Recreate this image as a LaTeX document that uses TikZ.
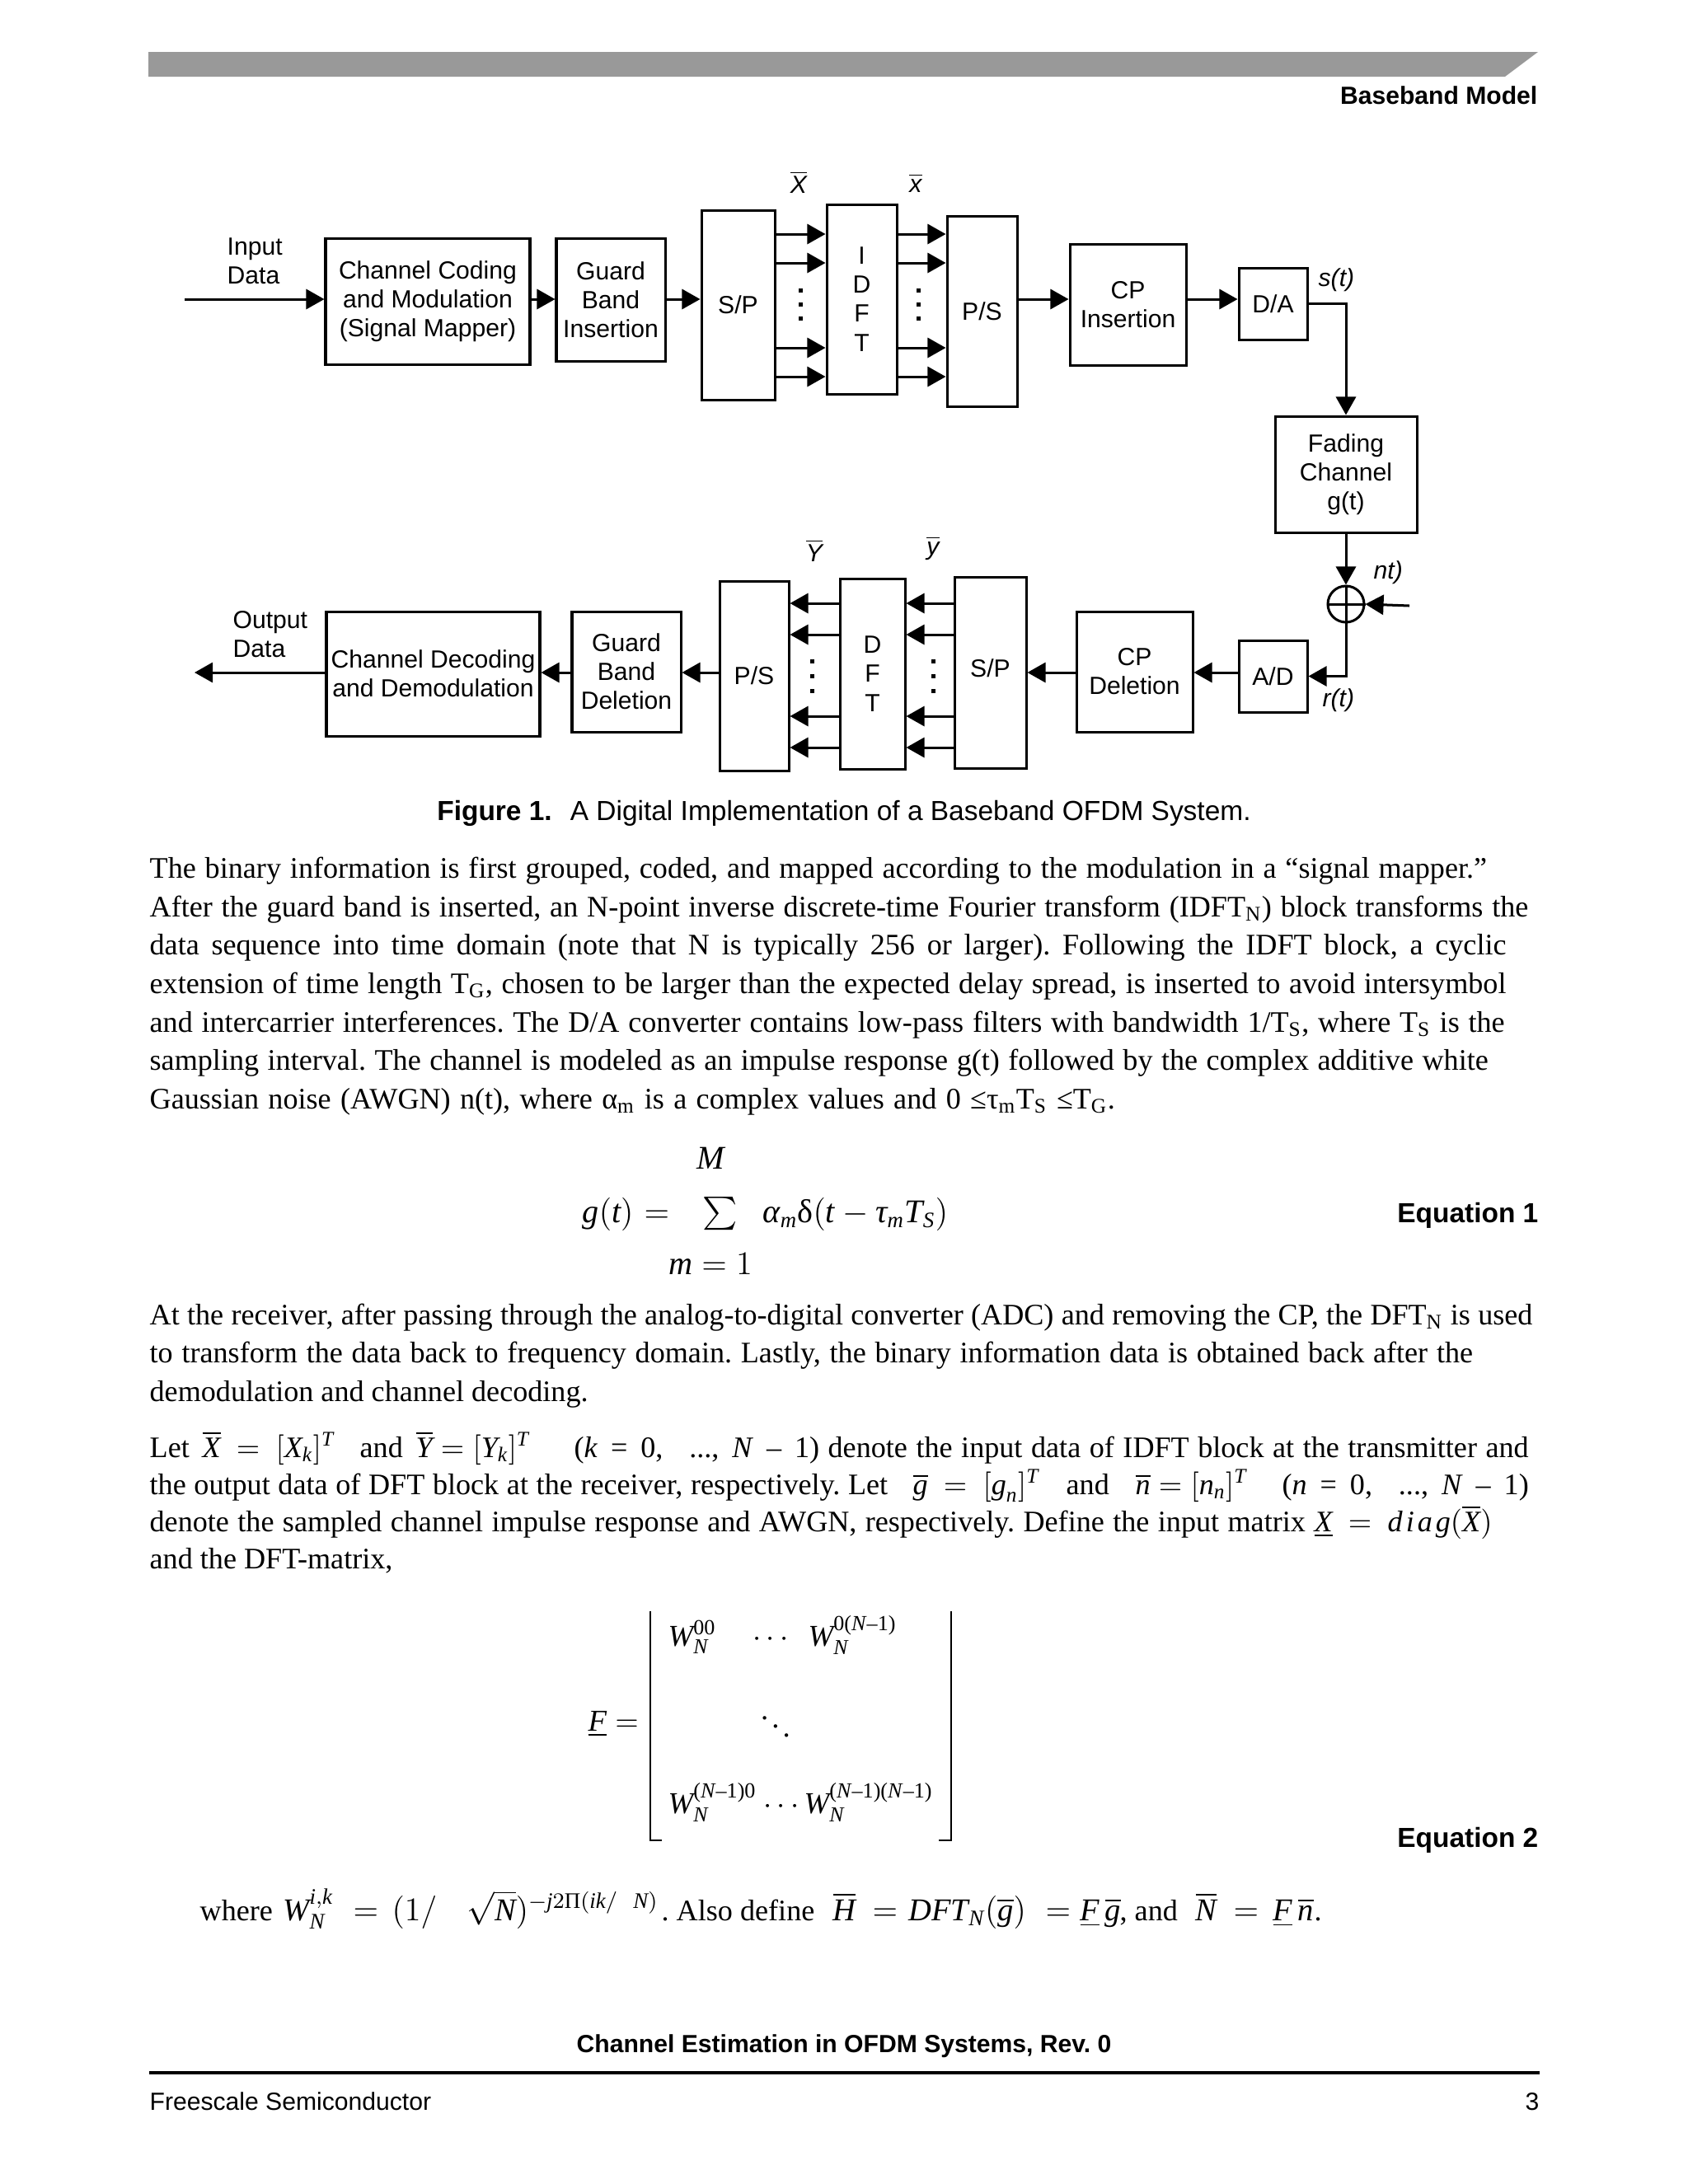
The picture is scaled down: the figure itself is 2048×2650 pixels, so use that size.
\documentclass[tikz,border=0pt]{standalone}
\usepackage{amsmath}
\usepackage{fontspec}
\setmainfont{Liberation Serif}
\setsansfont{Liberation Sans}
\usetikzlibrary{arrows.meta,calc}
\newcommand\pxu{0.298828pt}
\newcommand\dfont{\sffamily\fontsize{9}{10.5}\selectfont}
\newcommand\bfont{\rmfamily\fontsize{10.8}{14}\selectfont}
\newcommand\mfont{\rmfamily\fontsize{11.5}{14}\selectfont}
\newcommand\itx[1]{\textit{#1}}
\newcommand\jline[2]{\makebox[#1][s]{#2}}
\newcommand\sups[1]{\text{\fontsize{7.8}{9}\selectfont #1}}
\definecolor{bargray}{HTML}{999999}
\frenchspacing
\begin{document}
\begin{tikzpicture}[x=\pxu,y=-\pxu,
  box/.style={draw, line width=0.9pt, inner sep=0pt, align=center, font=\dfont},
  arr/.style={line width=0.9pt, -{Triangle[length=6.6pt,width=7.2pt]}},
  ln/.style={line width=0.9pt},
  lbl/.style={font=\dfont, inner sep=0pt},
  txt/.style={anchor=base west, inner sep=0pt, font=\bfont},
  mtx/.style={anchor=base west, inner sep=0pt, font=\mfont},
  dotn/.style={fill, minimum size=5*\pxu, inner sep=0pt, outer sep=0pt}]
\fill[white] (0,0) rectangle (2048,2650);
\useasboundingbox (0,0) rectangle (2048,2650);
% header
\fill[bargray] (180,63) -- (1866,63) -- (1826,93) -- (180,93) -- cycle;
\node[anchor=base east, inner sep=0pt, font=\sffamily\bfseries\fontsize{9}{11}\selectfont] (hdr) at (1866,126) {Baseband Model};
% ---------- transmitter ----------
\node[box, minimum width=248*\pxu, minimum height=153*\pxu] (chcod) at (519,365.5) {Channel Coding\\and Modulation\\(Signal Mapper)};
\node[box, minimum width=132*\pxu, minimum height=149*\pxu] (gins) at (741,363.5) {Guard\\Band\\Insertion};
\node[box, minimum width=89*\pxu, minimum height=230*\pxu] (sp1) at (895.5,370) {S/P};
\node[box, minimum width=85*\pxu, minimum height=230*\pxu] (idft) at (1045.5,363) {I\\D\\F\\T};
\node[box, minimum width=85*\pxu, minimum height=231*\pxu] (ps1) at (1191.5,377.5) {P/S};
\node[box, minimum width=141*\pxu, minimum height=147*\pxu] (cpins) at (1368.5,369.5) {CP\\Insertion};
\node[box, minimum width=83*\pxu, minimum height=87*\pxu] (da) at (1544.5,368.5) {D/A};
\node[box, minimum width=172*\pxu, minimum height=141*\pxu] (fad) at (1633,575.5) {Fading\\Channel\\g(t)};
\node[draw, circle, line width=0.9pt, minimum size=44*\pxu, inner sep=0pt] (add) at (1633,733) {};
\draw[ln] (add.north) -- (add.south);
\draw[ln] (add.west) -- (add.east);
% ---------- receiver ----------
\node[box, minimum width=83*\pxu, minimum height=87*\pxu] (ad) at (1544.5,820.5) {A/D};
\node[box, minimum width=141*\pxu, minimum height=146*\pxu] (cpdel) at (1376.5,815) {CP\\Deletion};
\node[box, minimum width=87*\pxu, minimum height=232*\pxu] (sp2) at (1201.5,816) {\raisebox{3.3pt}{S/P}};
\node[box, minimum width=79*\pxu, minimum height=231*\pxu] (dft) at (1058.5,817.5) {D\\F\\T};
\node[box, minimum width=84*\pxu, minimum height=230*\pxu] (ps2) at (915,820) {P/S};
\node[box, minimum width=132*\pxu, minimum height=146*\pxu] (gdel) at (760,815) {Guard\\Band\\Deletion};
\node[box, minimum width=259*\pxu, minimum height=151*\pxu] (chdec) at (525.5,817.5) {Channel Decoding\\and Demodulation};
% ---------- labels ----------
\node[lbl, anchor=west, align=left] (inlbl) at (275,317) {Input\\Data};
\node[lbl, anchor=west, align=left] (outlbl) at (282,770) {Output\\Data};
\node[lbl] (Xb) at (969,221) {$\overline{\textit{X}}$};
\node[lbl] (xb) at (1111,222) {$\overline{\textit{x}}$};
\node[lbl] (Yb) at (988,668) {$\overline{\textit{Y}}$};
\node[lbl] (yb) at (1132,665) {$\overline{\textit{y}}$};
\node[lbl, anchor=west] (st) at (1599,340) {\itshape s(t)};
\node[lbl, anchor=west] (nt) at (1666,695) {\itshape nt)};
\node[lbl, anchor=west] (rt) at (1604,850) {\itshape r(t)};
\foreach \y [count=\i] in {352,369,386} {
  \node[dotn] (da\i) at (971,\y) {};
  \node[dotn] (db\i) at (1114,\y) {};
}
\foreach \y [count=\i] in {802,820,838} {
  \node[dotn] (dc\i) at (985,\y) {};
  \node[dotn] (dd\i) at (1132,\y) {};
}
% ---------- connectors ----------
\coordinate (r1) at (0,363);
\coordinate (r2) at (0,816);
\coordinate (inp) at (224,363);
\coordinate (outp) at (236,816);
\coordinate (nz) at (1710,735);
\draw[arr] (inp) -- (chcod.west |- r1);
\draw[arr] (chcod.east |- r1) -- (gins.west |- r1);
\draw[arr] (gins.east |- r1) -- (sp1.west |- r1);
\foreach \y in {284,319,422,457} {
  \coordinate (hh) at (0,\y);
  \draw[arr] (sp1.east |- hh) -- (idft.west |- hh);
  \draw[arr] (idft.east |- hh) -- (ps1.west |- hh);
}
\draw[arr] (ps1.east |- r1) -- (cpins.west |- r1);
\draw[arr] (cpins.east |- r1) -- (da.west |- r1);
\draw[arr] (da.east) -- (da.east -| fad.north) -- (fad.north);
\draw[arr] (fad.south) -- (add.north);
\draw[arr] (nz) -- (add.east);
\draw[arr] (add.south) -- (add.south |- ad.east) -- (ad.east);
\draw[arr] (ad.west |- r2) -- (cpdel.east |- r2);
\draw[arr] (cpdel.west |- r2) -- (sp2.east |- r2);
\foreach \y in {732,770,869,907} {
  \coordinate (hh) at (0,\y);
  \draw[arr] (sp2.west |- hh) -- (dft.east |- hh);
  \draw[arr] (dft.west |- hh) -- (ps2.east |- hh);
}
\draw[arr] (ps2.west |- r2) -- (gdel.east |- r2);
\draw[arr] (gdel.west |- r2) -- (chdec.east |- r2);
\draw[arr] (chdec.west |- r2) -- (outp);
% caption
\node[anchor=base, inner sep=0pt, font=\sffamily\fontsize{10}{12}\selectfont] (cap) at (1024,995) {\textbf{Figure 1.}\hspace{6.6pt}A Digital Implementation of a Baseband OFDM System.};
% ---------- paragraph 1 ----------
\node[txt] (p1a) at (181,1065) {\jline{484.8pt}{The binary information is first grouped, coded, and mapped according to the modulation in a “signal mapper.”}};
\node[txt] (p1b) at (181,1112) {\jline{499.9pt}{After the guard band is inserted, an N-point inverse discrete-time Fourier transform (IDFT\textsubscript{N}) block transforms the}};
\node[txt] (p1c) at (181,1158) {\jline{491.8pt}{data sequence into time domain (note that N is typically 256 or larger). Following the IDFT block, a cyclic}};
\node[txt] (p1d) at (181,1205) {\jline{491.8pt}{extension of time length T\textsubscript{G}, chosen to be larger than the expected delay spread, is inserted to avoid intersymbol}};
\node[txt] (p1e) at (181,1252) {\jline{491.3pt}{and intercarrier interferences. The D/A converter contains low-pass filters with bandwidth 1/T\textsubscript{S}, where T\textsubscript{S} is the}};
\node[txt] (p1f) at (181,1298) {\jline{485.3pt}{sampling interval. The channel is modeled as an impulse response g(t) followed by the complex additive white}};
\node[txt] (p1g) at (181,1345) {\jline{350pt}{Gaussian noise (AWGN) n(t), where α\textsubscript{m} is a complex values and 0 ≤τ\textsubscript{m}T\textsubscript{S} ≤T\textsubscript{G}.}};
% ---------- equation 1 ----------
\begin{scope}[every node/.style={inner sep=0pt, font=\rmfamily\fontsize{12}{14}\selectfont}]
\node[anchor=base west] (eg) at (706,1483) {$\itx{g}(\itx{t})$};
\node[anchor=base] (eeq) at (797,1483) {$=$};
\node[anchor=base] (esum) at (874,1483) {$\textstyle\sum$};
\node[anchor=base] (eM) at (863,1418) {\itx{M}};
\node[anchor=base] (em1) at (862,1546) {$\itx{m} = 1$};
\node[anchor=base west] (ebody) at (925,1483) {$\itx{α}_{\itx{m}}\text{δ}(\itx{t} - \itx{τ}_{\itx{m}}\itx{T}_{\itx{S}})$};
\end{scope}
\node[anchor=base east, inner sep=0pt, font=\sffamily\bfseries\fontsize{10}{12}\selectfont] (eq1) at (1867,1483) {Equation 1};
% ---------- paragraph 2 ----------
\node[txt] (p2a) at (181,1607) {\jline{501.4pt}{At the receiver, after passing through the analog-to-digital converter (ADC) and removing the CP, the DFT\textsubscript{N} is used}};
\node[txt] (p2b) at (181,1653) {\jline{479.7pt}{to transform the data back to frequency domain. Lastly, the binary information data is obtained back after the}};
\node[txt] (p2c) at (181,1700) {demodulation and channel decoding.};
% line: Let ...
\node[txt] (l4a) at (181,1768) {Let};
\node[txt] (l4b) at (245,1768) {$\overline{\itx{X}}\ =\ [\itx{X}_{\itx{k}}]^{\itx{T}}$};
\node[txt] (l4c) at (436,1768) {and};
\node[txt] (l4d) at (504,1768) {$\overline{\itx{Y}} = [\itx{Y}_{\itx{k}}]^{\itx{T}}$};
\node[txt] (l4e) at (696,1768) {\jline{88.9pt}{(\itx{k} = 0,\ \ ..., \itx{N} – 1)}};
\node[txt] (l4f) at (1004,1768) {\jline{254pt}{denote the input data of IDFT block at the transmitter and}};
% line: the output data ...
\node[txt] (l5a) at (181,1813) {\jline{267.6pt}{the output data of DFT block at the receiver, respectively. Let}};
\node[txt] (l5b) at (1107,1813) {$\overline{\itx{g}}\ =\ [\itx{g}_{\itx{n}}]^{\itx{T}}$};
\node[txt] (l5c) at (1293,1813) {and};
\node[txt] (l5d) at (1377,1813) {$\overline{\itx{n}} = [\itx{n}_{\itx{n}}]^{\itx{T}}$};
\node[txt] (l5e) at (1555,1813) {\jline{89.4pt}{(\itx{n} = 0,\ \ ..., \itx{N} – 1)}};
% line: denote ...
\node[txt] (l6a) at (181,1858) {\jline{419pt}{denote the sampled channel impulse response and AWGN, respectively. Define the input matrix}};
\node[txt] (l6b) at (1594,1858) {$\underline{\itx{X}}\ =\ \itx{d\kern1.2pt i\kern1.2pt a\kern1.2pt g}(\overline{\itx{X}})$};
\node[txt] (p2g) at (181,1903) {and the DFT-matrix,};
% ---------- matrix ----------
\begin{scope}[every node/.style={inner sep=0pt, font=\rmfamily\fontsize{11}{14}\selectfont}]
\node[anchor=base west] (mF) at (713,2100) {$\underline{\itx{F}} =$};
\node[anchor=base west] (m11) at (810,1997) {$\itx{W}_{\itx{N}}^{\sups{00}}$};
\node[anchor=base] (mdots1) at (938,1997) {$\cdots$};
\node[anchor=base west] (m12) at (980,1997) {$\itx{W}_{\itx{N}}^{\sups{0(\itx{N}–1)}}$};
\node (mdd) at (941,2085) {$\ddots$};
\node[anchor=base west] (m21) at (810,2200) {$\itx{W}_{\itx{N}}^{\sups{(\itx{N}–1)0}}$};
\node[anchor=base] (mdots2) at (951,2200) {$\cdots$};
\node[anchor=base west] (m22) at (975,2200) {$\itx{W}_{\itx{N}}^{\sups{(\itx{N}–1)(\itx{N}–1)}}$};
\end{scope}
\draw[line width=0.6pt] (789,1955) -- (789,2233) -- (803,2233);
\draw[line width=0.6pt] (1154,1955) -- (1154,2233) -- (1139,2233);
\node[anchor=base east, inner sep=0pt, font=\sffamily\bfseries\fontsize{10}{12}\selectfont] (eq2) at (1867,2241) {Equation 2};
% where line
\node[txt] (w1) at (242,2330) {where};
\node[mtx] (w2) at (343,2330) {$\itx{W}_{\itx{N}}^{\itx{i},\itx{k}}$};
\node[mtx] (w3) at (428,2330) {$=$};
\node[mtx] (w4) at (475,2330) {$(1/$};
\node[mtx] (w5) at (566,2330) {$\sqrt{\itx{N}})^{-\itx{j}2\text{Π}(\itx{ik}/\ \ \itx{N})}$};
\node[txt] (w6) at (802,2330) {. Also define};
\node[mtx] (w7) at (1010,2330) {$\overline{\itx{H}}$};
\node[mtx] (w8) at (1058,2330) {$=$};
\node[mtx] (w9) at (1102,2330) {$\itx{DFT}_{\itx{N}}(\overline{\itx{g}})$};
\node[mtx] (w10) at (1268,2330) {$=$};
\node[mtx] (w11) at (1310,2330) {$\underline{\itx{F}}\,\overline{\itx{g}}$};
\node[txt] (w12) at (1358,2330) {, and};
\node[mtx] (w13) at (1450,2330) {$\overline{\itx{N}}$};
\node[mtx] (w14) at (1496,2330) {$=$};
\node[mtx] (w15) at (1544,2330) {$\underline{\itx{F}}\,\overline{\itx{n}}$};
\node[txt] (w16) at (1594,2330) {.};
% ---------- footer ----------
\node[anchor=base, inner sep=0pt, font=\sffamily\bfseries\fontsize{9}{11}\selectfont] (ftitle) at (1024,2490) {Channel Estimation in OFDM Systems, Rev. 0};
\draw[line width=1.2pt] (181,2515) -- (1868,2515);
\node[anchor=base west, inner sep=0pt, font=\sffamily\fontsize{9}{11}\selectfont] (fs) at (181,2560) {Freescale Semiconductor};
\node[anchor=base east, inner sep=0pt, font=\sffamily\fontsize{9}{11}\selectfont] (pg) at (1868,2560) {3};
\end{tikzpicture}
\end{document}
